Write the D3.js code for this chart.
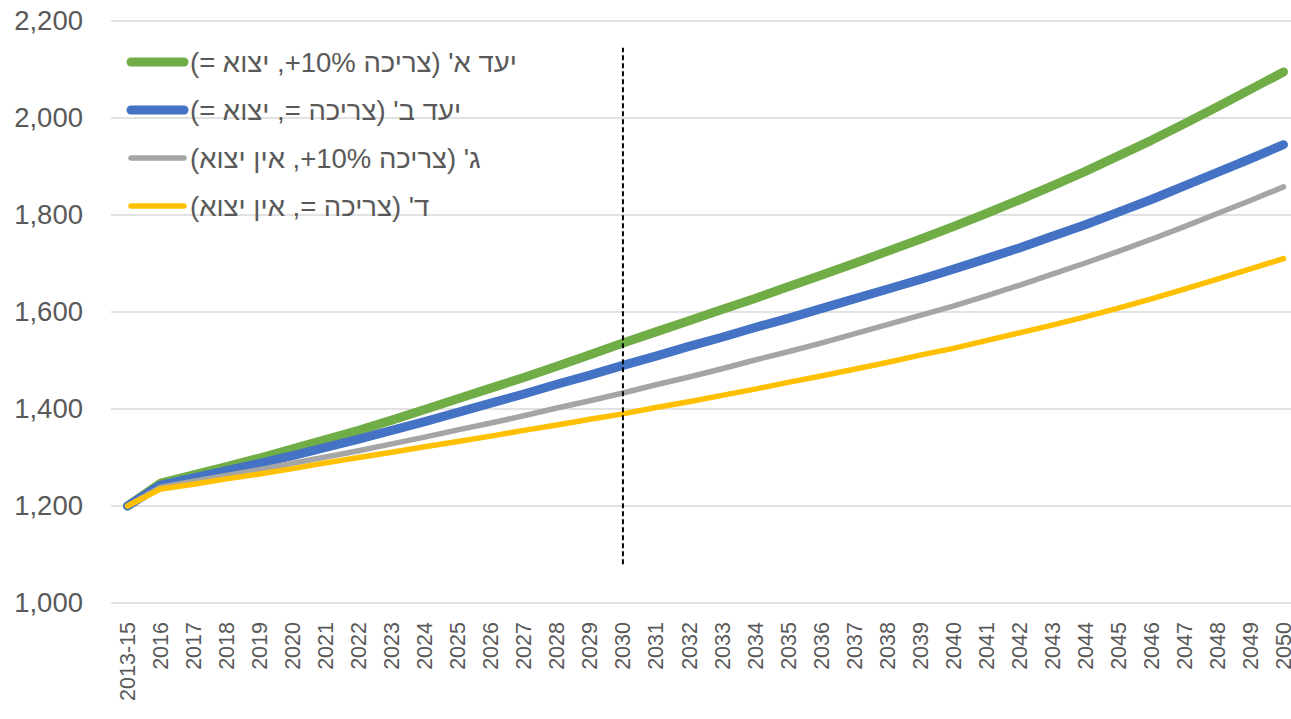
<!DOCTYPE html>
<html>
<head>
<meta charset="utf-8">
<script src="https://cdn.jsdelivr.net/npm/d3@7"></script>
<style>
  body { margin: 0; background: #fff; }
  text { font-family: "Liberation Sans", Arial, sans-serif; fill: #595959; }
</style>
</head>
<body>
<div id="chart"></div>
<script>
// categories (x axis)
var years = ["2013-15"];
for (var y = 2016; y <= 2050; y++) years.push(String(y));

// series values
var goalA = [1200,1247,1264,1281,1299,1318,1337,1356,1377,1399,1421,1443,1465,1488,1512,1536,1559,1582,1605,1628,1652,1676,1700,1725,1750,1776,1803,1831,1860,1890,1922,1954,1988,2023,2059,2095];
var goalB = [1200,1243,1258,1273,1288,1304,1321,1338,1356,1374,1393,1412,1431,1451,1470,1490,1509,1529,1548,1568,1587,1607,1627,1647,1667,1688,1710,1732,1756,1780,1806,1832,1860,1888,1916,1945];
var scenC = [1200,1239,1251,1263,1275,1288,1301,1314,1328,1342,1357,1371,1386,1402,1417,1433,1450,1466,1483,1501,1518,1536,1555,1574,1593,1612,1633,1655,1678,1701,1725,1750,1776,1803,1830,1858];
var scenD = [1200,1235,1245,1256,1266,1277,1289,1300,1311,1322,1333,1344,1356,1367,1379,1390,1403,1415,1428,1441,1455,1468,1482,1496,1511,1525,1541,1557,1573,1590,1608,1627,1647,1668,1689,1710];

var seriesNames = ["יעד א' (צריכה +10%, יצוא =)", "יעד ב' (צריכה =, יצוא =)", "ג' (צריכה +10%, אין יצוא)", "ד' (צריכה =, אין יצוא)"];
var yTicks = [1000, 1200, 1400, 1600, 1800, 2000, 2200];
var markerYear = "2030";
var markerRange = [1080, 2145];

var series = [
  {name: seriesNames[0], values: goalA, color: "#70ad47", width: 9},
  {name: seriesNames[1], values: goalB, color: "#4472c4", width: 9},
  {name: seriesNames[2], values: scenC, color: "#a5a5a5", width: 5.5},
  {name: seriesNames[3], values: scenD, color: "#ffc000", width: 5.5}
];

var W = 1291, H = 719;
var svg = d3.select("#chart").append("svg")
  .attr("width", W).attr("height", H);

var x = d3.scaleBand().domain(years).range([111, 1300]).padding(0);
var y = d3.scaleLinear().domain([1000, 2200]).range([603, 21]);
var cx = function(d){ return x(d) + x.bandwidth() / 2; };

// gridlines
svg.append("g").selectAll("line")
  .data(yTicks).enter().append("line")
  .attr("x1", 111).attr("x2", 1300)
  .attr("y1", d => y(d)).attr("y2", d => y(d))
  .attr("stroke", "#d9d9d9").attr("stroke-width", 1.5);

// y axis labels
var yAxis = svg.append("g")
  .attr("transform", "translate(83,0)")
  .call(d3.axisLeft(y).tickValues(yTicks).tickSize(0).tickPadding(0).tickFormat(d3.format(",")));
yAxis.select(".domain").remove();
yAxis.selectAll("text")
  .style("font-size", "27.5px").attr("fill", "#595959")
  .style("font-family", "'Liberation Sans', Arial, sans-serif");

// x axis labels
var xAxis = svg.append("g")
  .attr("transform", "translate(0,615)")
  .call(d3.axisBottom(x).tickSize(0).tickPadding(0));
xAxis.select(".domain").remove();
xAxis.selectAll("text")
  .style("font-size", "21.5px").attr("fill", "#595959")
  .style("font-family", "'Liberation Sans', Arial, sans-serif")
  .attr("transform", "rotate(-90)")
  .attr("text-anchor", "end")
  .attr("x", -7).attr("y", 0).attr("dy", "0.35em");

// lines
var line = d3.line()
  .x((d, i) => cx(years[i]))
  .y(d => y(d));

svg.append("g").selectAll("path")
  .data(series).enter().append("path")
  .attr("d", d => line(d.values))
  .attr("fill", "none")
  .attr("stroke", d => d.color)
  .attr("stroke-width", d => d.width)
  .attr("stroke-linecap", "round")
  .attr("stroke-linejoin", "round");

// dashed marker at 2030
svg.append("line")
  .attr("x1", cx(markerYear)).attr("x2", cx(markerYear))
  .attr("y1", y(markerRange[0])).attr("y2", y(markerRange[1]))
  .attr("stroke", "#000").attr("stroke-width", 2)
  .attr("stroke-dasharray", "5,3");

// legend
var legend = svg.append("g").selectAll("g")
  .data(series).enter().append("g")
  .attr("transform", (d, i) => "translate(0," + (62 + i * 48) + ")");
legend.append("line")
  .attr("x1", 131).attr("x2", 184)
  .attr("stroke", d => d.color)
  .attr("stroke-width", d => d.width)
  .attr("stroke-linecap", "round");
legend.append("text")
  .attr("x", 190).attr("dy", "0.35em")
  .attr("direction", "rtl")
  .attr("text-anchor", "end")
  .style("font-size", "27.5px")
  // keep "+10%" in visual order, as in the picture
  .text(d => d.name.replace("+10%", "\u2066+10%\u2069"));
</script>
</body>
</html>
